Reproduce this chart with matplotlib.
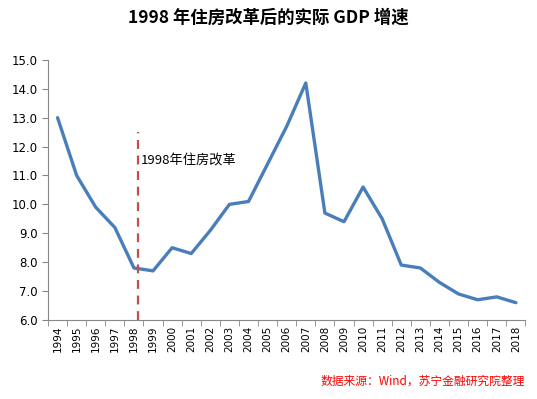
import matplotlib

matplotlib.use("Agg")
import matplotlib.pyplot as plt
import numpy as np

plt.rcParams["font.family"] = ["Noto Sans CJK SC", "DejaVu Sans"]

years = [str(y) for y in range(1994, 2019)]
gdp_growth = [13.0, 11.0, 9.9, 9.2, 7.8, 7.7, 8.5, 8.3, 9.1, 10.0, 10.1, 11.4, 12.7,
              14.2, 9.7, 9.4, 10.6, 9.5, 7.9, 7.8, 7.3, 6.9, 6.7, 6.8, 6.6]
reform_pos = 4.2
reform_label = "1998年住房改革"
title = "1998 年住房改革后的实际 GDP 增速"
source = "数据来源：Wind，苏宁金融研究院整理"

fig = plt.figure(figsize=(5.37, 3.99), dpi=100)
ax = fig.add_axes([0.0894, 0.198, 0.889, 0.652])

x = np.arange(len(years))
ax.plot(x, gdp_growth, color="#4A7EBB", linewidth=2.4, solid_capstyle="round")
ax.vlines(reform_pos, 6.0, 12.5, colors="#C0504D", linestyles=(0, (4, 3)), linewidth=1.6)
ax.text(reform_pos + 0.15, 11.5, reform_label, fontsize=9.5, va="center", ha="left")

ax.set_xlim(-0.5, len(years) - 0.5)
ax.set_ylim(6.0, 15.0)
ax.set_yticks(np.arange(6.0, 15.5, 1.0))
ax.set_yticklabels([f"{v:.1f}" for v in np.arange(6.0, 15.5, 1.0)], fontsize=8.5, family="DejaVu Sans")
ax.set_xticks(x)
ax.set_xticklabels(years, rotation=90, fontsize=7.5, family="DejaVu Sans")
ax.set_xticks(np.arange(-0.5, len(years), 1.0), minor=True)
ax.tick_params(axis="x", which="major", length=0, pad=4)
ax.tick_params(axis="x", which="minor", length=4, color="#888888")
ax.tick_params(axis="y", length=4, color="#888888")

for side in ("top", "right"):
    ax.spines[side].set_visible(False)
for side in ("left", "bottom"):
    ax.spines[side].set_color("#888888")

fig.text(0.5, 0.955, title, ha="center", va="center", fontsize=12.5, fontweight="bold")
fig.text(0.978, 0.045, source, ha="right", va="center", fontsize=8.5, color="#FF0000", style="italic")

fig.savefig("out.png", dpi=100)
plt.close(fig)
